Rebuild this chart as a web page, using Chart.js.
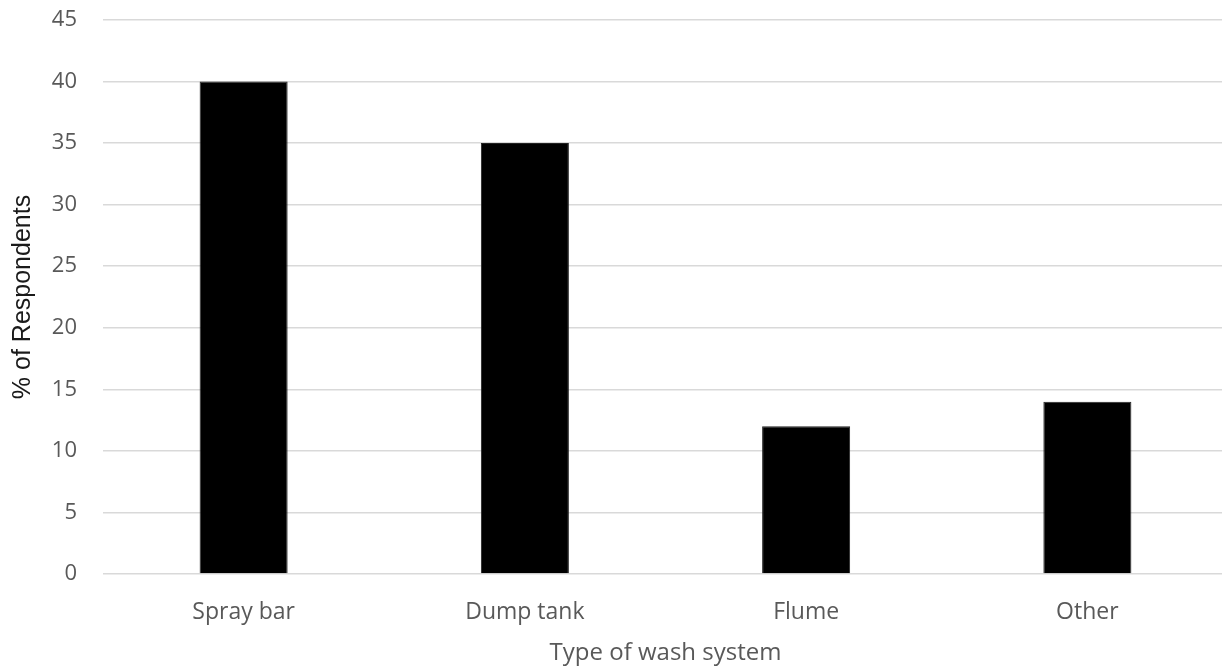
<!DOCTYPE html>
<html>
<head>
<meta charset="utf-8">
<script src="https://cdn.jsdelivr.net/npm/chart.js@4.4.1/dist/chart.umd.min.js"></script>
<style>
  html, body { margin: 0; padding: 0; background: #fff; overflow: hidden; }
  #wrap { position: relative; width: 1230px; height: 672px; }
</style>
</head>
<body>
<div id="wrap"><canvas id="washChart"></canvas></div>
<script>
// Data
const categories = ['Spray bar', 'Dump tank', 'Flume', 'Other'];
const respondents = [40, 35, 12, 14];
const yTicks = [0, 5, 10, 15, 20, 25, 30, 35, 40, 45];

const xTitle = 'Type of wash system';
const yTitle = '% of Respondents';

const tickFont = { family: '"Open Sans", sans-serif', size: 22 };

const ctx = document.getElementById('washChart').getContext('2d');

new Chart(ctx, {
    type: 'bar',
    data: {
        labels: categories,
        datasets: [{
            data: respondents,
            backgroundColor: '#000000',
            borderColor: '#222222',
            borderWidth: 1,
            barPercentage: 0.313,
            categoryPercentage: 1.0
        }]
    },
    options: {
        responsive: true,
        maintainAspectRatio: false,
        animation: false,
        layout: { padding: { top: 20, right: 2, left: 0, bottom: 0 } },
        plugins: {
            legend: { display: false },
            tooltip: { enabled: false }
        },
        scales: {
            x: {
                grid: { display: false, drawTicks: false },
                border: { display: false },
                ticks: { color: '#595959', font: { family: '"Open Sans", sans-serif', size: 23 }, padding: 25 },
                title: {
                    display: true,
                    text: xTitle,
                    color: '#595959',
                    font: { family: '"Open Sans", sans-serif', size: 24 },
                    padding: { top: 0, bottom: 4 }
                },
                afterFit: scale => { scale.height = 98; }
            },
            y: {
                min: 0,
                max: 45,
                afterBuildTicks: scale => {
                    scale.ticks = yTicks.map(v => ({ value: v }));
                },
                grid: { color: '#d9d9d9', lineWidth: 1.5, drawTicks: false },
                border: { display: false },
                ticks: { color: '#595959', font: tickFont, padding: 26 },
                title: {
                    display: true,
                    text: yTitle,
                    color: '#1a1a1a',
                    font: { family: '"Liberation Sans", Arial, sans-serif', size: 25 },
                    padding: { top: 8, bottom: 0 }
                },
                afterFit: scale => {
                    scale.width = 103;
                    // keep the tick padding from pushing the plot area down
                    scale.paddingTop = 0;
                    scale.paddingBottom = 0;
                }
            }
        }
    }
});
</script>
</body>
</html>
